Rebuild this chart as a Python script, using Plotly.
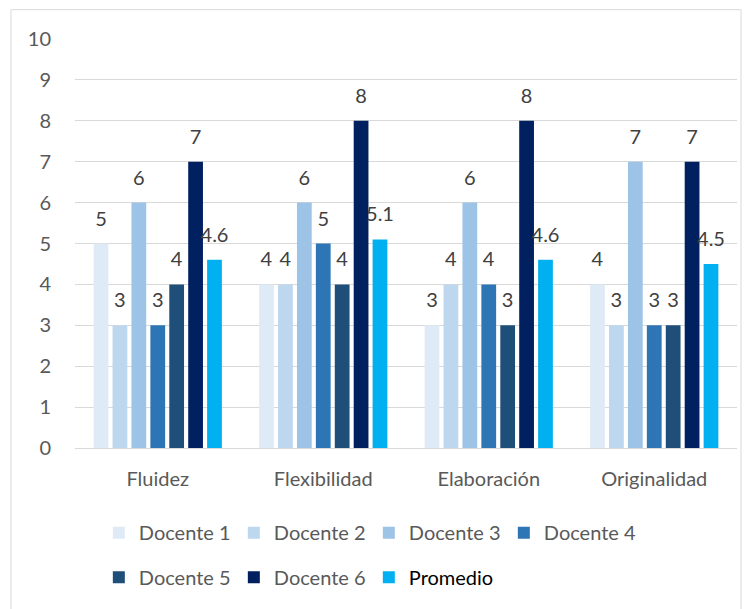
import plotly.graph_objects as go

categories = ["Fluidez", "Flexibilidad", "Elaboración", "Originalidad"]
series_names = ["Docente 1", "Docente 2", "Docente 3", "Docente 4", "Docente 5", "Docente 6", "Promedio"]
docente1 = [5, 4, 3, 4]
docente2 = [3, 4, 4, 3]
docente3 = [6, 6, 6, 7]
docente4 = [3, 5, 4, 3]
docente5 = [4, 4, 3, 3]
docente6 = [7, 8, 8, 7]
promedio = [4.6, 5.1, 4.6, 4.5]
series_values = [docente1, docente2, docente3, docente4, docente5, docente6, promedio]
colors = ["#DEEBF7", "#BDD7EE", "#9DC3E6", "#2E75B6", "#1F4E79", "#002060", "#00B0F0"]
y_ticks = list(range(0, 11))

FONT = "Lato"
GRAY = "#595959"
FS = 20

fig = go.Figure()
for i, (name, vals, col) in enumerate(zip(series_names, series_values, colors)):
    label = name if name != "Promedio" else "<span style='color:#000000'>Promedio</span>"
    fig.add_trace(go.Bar(
        x=categories, y=vals, name=label,
        marker=dict(color=col, line=dict(width=0)),
        texttemplate="<span style='font-size:%dpx'>%%{y}</span><br>\u00a0" % FS,
        textposition="outside",
        constraintext="none",
        cliponaxis=False,
        textfont=dict(family=FONT, size=10, color="#404040"),
        legend="legend" if i < 4 else "legend2",
        hoverinfo="x+y+name",
    ))

fig.update_layout(
    width=752, height=609,
    margin=dict(l=75, r=15, t=39, b=159),
    paper_bgcolor="white", plot_bgcolor="white",
    barmode="group", bargap=0.2, bargroupgap=0.22,
    font=dict(family=FONT, size=FS, color=GRAY),
    showlegend=True,
    legend=dict(orientation="h", x=0.036, xanchor="left", y=-0.207, yanchor="middle",
                entrywidth=90, font=dict(family=FONT, size=FS, color=GRAY),
                itemclick=False, bgcolor="rgba(0,0,0,0)"),
    legend2=dict(orientation="h", x=0.036, xanchor="left", y=-0.316, yanchor="middle",
                 entrywidth=90, font=dict(family=FONT, size=FS, color=GRAY),
                 itemclick=False, bgcolor="rgba(0,0,0,0)"),
    xaxis=dict(showgrid=False, showline=True, linecolor="#D9D9D9", linewidth=1,
               ticks="", tickfont=dict(family=FONT, size=FS, color=GRAY),
               ticklabelstandoff=13),
    yaxis=dict(range=[0, 10], tickvals=y_ticks, showgrid=True, gridcolor="#D9D9D9",
               gridwidth=1, zeroline=False, showline=False, ticks="",
               tickfont=dict(family=FONT, size=FS, color=GRAY), ticklabelstandoff=23),
    shapes=[dict(type="rect", xref="paper", yref="paper",
                 x0=(11 - 75) / 662, x1=(741 - 75) / 662,
                 y0=-0.5, y1=(450 - 9.5) / 411,
                 line=dict(color="#D9D9D9", width=1), fillcolor="rgba(0,0,0,0)", layer="below")],
)

fig.write_html("out.html", config={"displayModeBar": False},
               post_script="document.body.style.margin='0px';")
